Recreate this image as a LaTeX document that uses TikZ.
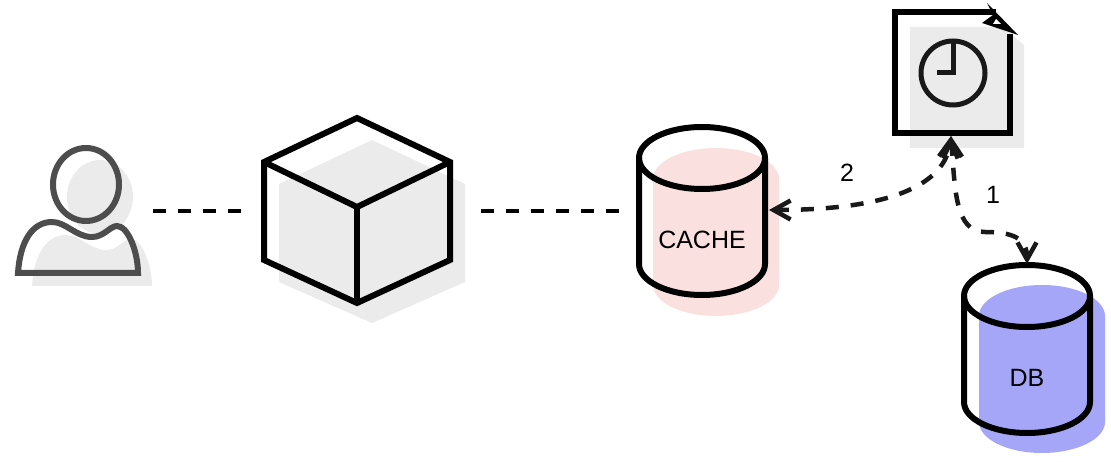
\documentclass[tikz,border=0pt]{standalone}
\usepackage{fontspec}
\setmainfont{Liberation Sans}
\usetikzlibrary{arrows.meta}
\definecolor{shadowgray}{HTML}{EBEBEB}
\definecolor{shadowpink}{HTML}{FBE0E0}
\definecolor{shadowblue}{HTML}{A6A6F9}
\definecolor{usergray}{HTML}{4D4D4D}
\tikzset{
  outline/.style={draw=black, line width=6pt, line join=miter},
  link/.style={draw=black, line width=4.5pt, dash pattern=on 13pt off 12pt},
  linktip/.style={{Straight Barb[length=17pt,width=19pt]}-{Straight Barb[length=17pt,width=19pt]}},
  caption/.style={font=\fontsize{25}{29}\selectfont, inner sep=0pt},
}
\newcommand{\cylinderpath}[2]{%
  (#1-63,#2+31) arc[start angle=180, end angle=360, x radius=63, y radius=31]
  -- (#1+63,#2+137) arc[start angle=0, end angle=180, x radius=63, y radius=31] -- cycle}
\newcommand{\cylinderfront}[2]{%
  (#1-63,#2+31) arc[start angle=180, end angle=0, x radius=63, y radius=31]}
\begin{document}
\begin{tikzpicture}[x=1pt, y=-1pt]
    \useasboundingbox (0,0) rectangle (1111,462);

    % Ombres
    \fill[shadowgray] (372,140) -- (465,184) -- (465,282) -- (372,323) -- (279,282) -- (279,184) -- cycle;
    \fill[shadowgray] (910,27) -- (1003,27) -- (1024,45) -- (1024,148) -- (910,148) -- cycle;
    \fill[shadowgray] (100,197) ellipse (33 and 37);
    \fill[shadowgray] (32,286) .. controls (34,255) and (46,235) .. (66,235) .. controls (80,235) and (90,250) .. (106,250) .. controls (118,250) and (124,239) .. (131,239) .. controls (142,239) and (152,265) .. (152,286) -- cycle;
    \fill[shadowpink] \cylinderpath{716}{148};
    \fill[shadowblue] \cylinderpath{1042}{285};

    % Utilisateur
    \draw[usergray, line width=6pt] (86,184.5) ellipse (33 and 36.5);
    \draw[usergray, line width=6pt] (18,273) .. controls (20,242) and (32,222) .. (52,222) .. controls (66,222) and (76,237) .. (92,237) .. controls (104,237) and (110,226) .. (117,226) .. controls (128,226) and (138,252) .. (138,273) -- cycle;

    % Cube
    \draw[outline] (357,118) -- (450,162) -- (450,260) -- (357,303) -- (264,260) -- (264,162) -- cycle;
    \draw[outline] (264,162) -- (357,207) -- (450,162);
    \draw[outline] (357,207) -- (357,303);

    % Cylindres
    \draw[outline] \cylinderpath{702}{127};
    \draw[outline] \cylinderfront{702}{127};
    \node[caption] (cachelabel) at (702,240) {CACHE};
    \draw[outline] \cylinderpath{1027}{265};
    \draw[outline] \cylinderfront{1027}{265};
    \node[caption] (dblabel) at (1027,378) {DB};

    % Document et horloge
    \draw[outline] (996,12) -- (895,12) -- (895,133) -- (1010,133) -- (1010,34);
    \fill[black] (987,3) -- (1018,35) -- (982,23) -- (993,15) -- cycle;
    \fill[white] (996,19) -- (1001,24) -- (993,24) -- cycle;
    \draw[black!90, line width=5pt] (953,73) circle (32);
    \draw[black!90, line width=5pt] (953,43) -- (953,73) -- (937,73);

    % Liens
    \coordinate (userend) at (153,211);
    \coordinate (cubein) at (243,211);
    \coordinate (cubeout) at (481,211);
    \coordinate (cacheend) at (619,211);
    \coordinate (cacheport) at (769,210);
    \coordinate (docport) at (951,136);
    \coordinate (dbport) at (1027,264);
    \draw[link] (userend) -- (cubein);
    \draw[link] (cubeout) -- (cacheend);
    \draw[link, linktip, draw=black!90] (cacheport) .. controls (890,210) and (945,185) .. (docport);
    \draw[link, linktip, draw=black!90] (docport) .. controls (955,190) and (955,232) .. (985,232) .. controls (1012,232) and (1027,238) .. (dbport);
    \node[caption] (numtwo) at (847,173) {2};
    \node[caption] (numone) at (993,195) {1};
\end{tikzpicture}
\end{document}
